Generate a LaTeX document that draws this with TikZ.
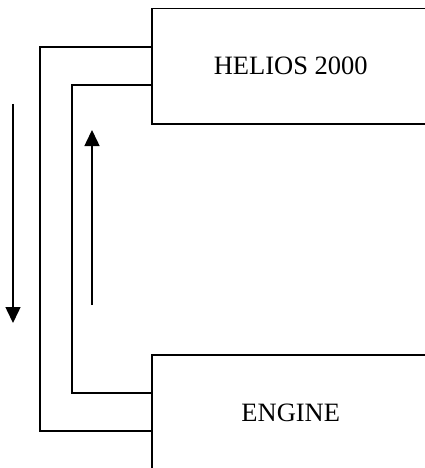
\documentclass[tikz,border=0pt]{standalone}
\usepackage{fontspec}
\setmainfont{Liberation Serif}
\usetikzlibrary{arrows.meta,positioning}

\begin{document}
\begin{tikzpicture}[x=1pt,y=-1pt, unit/.style={draw,line width=1.5pt,minimum width=278pt,inner sep=0pt,font=\fontsize{26.5}{30}\selectfont}, pipe/.style={line width=1.5pt}, flow/.style={-{Triangle[width=15pt,length=16pt]}, line width=1.5pt}]
\useasboundingbox (0,0) rectangle (425,468);
\node[unit, minimum height=115pt, anchor=north west] (helios) at (151,8) {HELIOS 2000};
\node[unit, minimum height=116pt, anchor=north west] (engine) at (151,354) {ENGINE};
% outer and inner pipe
\draw[pipe] ([yshift=-39pt]helios.north west) -| ([xshift=-111pt,yshift=-77pt]engine.north west) -- ([yshift=-77pt]engine.north west);
\draw[pipe] ([yshift=-77pt]helios.north west) -| ([xshift=-79pt,yshift=-39pt]engine.north west) -- ([yshift=-39pt]engine.north west);
% flow direction
\coordinate (down1) at (13,104); \coordinate (down2) at (13,323);
\coordinate (up1) at (92,305); \coordinate (up2) at (92,130);
\draw[flow] (down1) -- (down2);
\draw[flow] (up1) -- (up2);
\end{tikzpicture}
\end{document}
